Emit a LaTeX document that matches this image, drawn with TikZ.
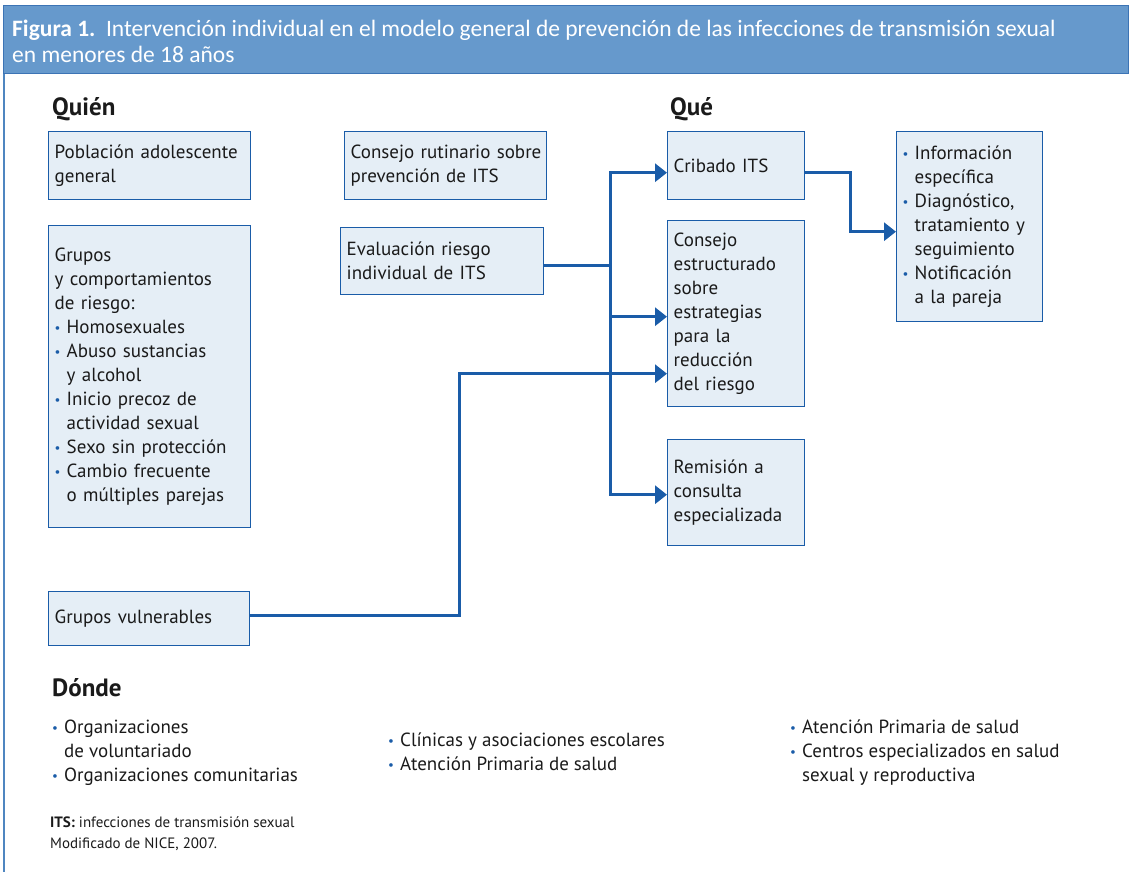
\documentclass[tikz,border=0pt]{standalone}
\usepackage{fontspec}
\setmainfont{PT Sans}
\newfontfamily\headfont{Carlito}
\usetikzlibrary{arrows.meta,positioning}
\definecolor{ink}{HTML}{1A1A1A}
\definecolor{flow}{HTML}{1A5CA8}
\definecolor{boxfill}{HTML}{E5EEF6}
\definecolor{band}{HTML}{6699CC}
\definecolor{frame}{HTML}{4F86C0}
\newcommand{\bpt}{\makebox[12pt][l]{\color{flow}\raisebox{1pt}{\fontsize{13}{13}\selectfont\textbullet}}}
\newcommand{\bind}{\hspace*{12pt}}
\tikzset{
  arr/.style={-{Triangle[length=12pt,width=18pt]}, line width=3pt, draw=flow},
  lnk/.style={line width=3pt, draw=flow},
  figbase/.style={
    font=\fontsize{19}{24}\selectfont,
    color=ink,
    x=1pt, y=-1pt,
  },
  box/.style={
    draw=flow, line width=1.4pt,
    fill=boxfill,
    inner xsep=6pt, inner ysep=3pt,
    align=left, anchor=north west,
    text=ink,
  },
  head/.style={font=\fontsize{25}{28}\bfseries\selectfont, anchor=west, inner sep=0pt},
  lst/.style={align=left, anchor=north west, inner sep=0pt},
  note/.style={font=\fontsize{15}{21}\selectfont, align=left, anchor=north west, inner sep=0pt},
}

\begin{document}
\begin{tikzpicture}[figbase]
  \useasboundingbox (0,0) rectangle (1131,872);

  % header band and frame
  \draw[fill=band, draw=flow!85, line width=1pt] (3,6) rectangle (1128,74);
  \draw[frame, line width=1.2pt] (4,74) -- (4,872);
  \node[anchor=north west, align=left, text=white, inner sep=0pt,
        font=\headfont\fontsize{23.5}{26}\selectfont] (title) at (12,20)
    {\textbf{Figura 1.}\ \ Intervención individual en el modelo general de prevención de las infecciones de transmisión sexual\\en menores de 18 años};

  % quien
  \node[head] (quien) at (52,109) {Quién};
  \node[box, text width=190pt, minimum height=68pt] (pob) at (48,131)
    {Población adolescente\\general};
  \node[box, text width=190pt, minimum height=302pt] (grupos) at (48,225)
    {Grupos\\y comportamientos\\de riesgo:\\
     \bpt Homosexuales\\
     \bpt Abuso sustancias\\\bind y alcohol\\
     \bpt Inicio precoz de\\\bind actividad sexual\\
     \bpt Sexo sin protección\\
     \bpt Cambio frecuente\\\bind o múltiples parejas};
  \node[box, text width=189pt, minimum height=54pt] (vuln) at (48,591)
    {Grupos vulnerables};

  \node[box, text width=190pt, minimum height=68pt] (rutina) at (344,131)
    {\mbox{Consejo rutinario sobre}\\prevención de ITS};
  \node[box, text width=191pt, minimum height=67pt] (eval) at (340,227)
    {Evaluación riesgo\\individual de ITS};

  % que
  \node[head] (que) at (670,109) {Qué};
  \node[box, text width=125pt, minimum height=68pt] (cribado) at (667,131)
    {Cribado ITS};
  \node[box, text width=125pt, minimum height=186pt] (estruct) at (667,220)
    {Consejo\\estructurado\\sobre\\estrategias\\para la\\reducción\\del riesgo};
  \node[box, text width=125pt, minimum height=106pt] (remision) at (667,439)
    {Remisión a\\consulta\\especializada};
  \node[box, text width=134pt, minimum height=190pt] (info) at (896,131)
    {\bpt Información\\\bind específica\\
     \bpt Diagnóstico,\\\bind \mbox{tratamiento y}\\\bind seguimiento\\
     \bpt Notificación\\\bind a la pareja};

  % connectors
  \coordinate (bus) at (610,0);
  \coordinate (vx) at (459,0);
  \coordinate (kx) at (850,0);
  \coordinate (cin) at ([yshift=-7pt]cribado.west);
  \coordinate (cout) at ([yshift=-7pt]cribado.east);
  \coordinate (sin) at ([yshift=-3pt]estruct.west);
  \coordinate (vin) at ([yshift=-60pt]estruct.west);
  \coordinate (rin) at ([yshift=-2pt]remision.west);
  \coordinate (iin) at ([yshift=-5pt]info.west);
  \coordinate (eout) at ([yshift=-4pt]eval.east);
  \coordinate (vout) at ([yshift=3pt]vuln.east);

  \draw[lnk] (eout) -- (eout -| bus);
  \draw[arr] (eout -| bus) |- (cin);
  \draw[arr] (eout -| bus) |- (rin);
  \draw[arr] (sin -| bus) -- (sin);
  \draw[arr] (vout) -| (vx |- vin) -- (vin);
  \draw[arr] (cout) -| (kx |- iin) -- (iin);

  % donde
  \node[head] (donde) at (52,688) {Dónde};
  \node[lst] (lugar1) at (52,720)
    {\bpt Organizaciones\\\bind de voluntariado\\\bpt Organizaciones comunitarias};
  \node[lst] (lugar2) at (388,733)
    {\bpt Clínicas y asociaciones escolares\\\bpt Atención Primaria de salud};
  \node[lst] (lugar3) at (790,720)
    {\bpt Atención Primaria de salud\\\bpt Centros especializados en salud\\\bind sexual y reproductiva};

  \node[note] (nota) at (50,816)
    {\textbf{ITS:} infecciones de transmisión sexual\\Modificado de NICE, 2007.};
\end{tikzpicture}
\end{document}
